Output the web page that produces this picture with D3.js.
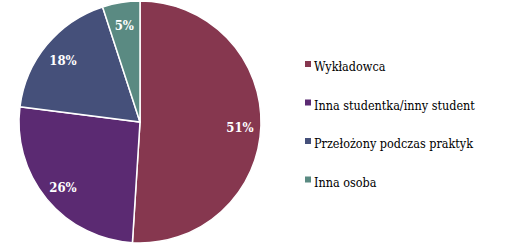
<!DOCTYPE html>
<html>
<head>
<meta charset="utf-8">
<script src="https://cdnjs.cloudflare.com/ajax/libs/d3/7.8.5/d3.min.js"></script>
<style>
  body { margin: 0; background: #fff; }
  text { font-family: 'DejaVu Serif Condensed', 'DejaVu Serif', serif; font-stretch: condensed; }
</style>
</head>
<body>
<div id="chart"></div>
<script>
var categories = ['Wykładowca', 'Inna studentka/inny student', 'Przełożony podczas praktyk', 'Inna osoba']
var values = [51, 26, 18, 5]
var labels = ['51%', '26%', '18%', '5%']
var colors = ['#86374f', '#5b2a72', '#45507a', '#5a8a82']

var w = 515, h = 246
var radius = 121
var cx = 140, cy = 122

var svg = d3.select('#chart').append('svg')
  .attr('width', w)
  .attr('height', h)

var data = categories.map(function(c, i) {
  return { name: c, value: values[i], label: labels[i], color: colors[i] }
})

var pie = d3.pie()
  .sort(null)
  .value(function(d) { return d.value })

var arc = d3.arc()
  .innerRadius(0)
  .outerRadius(radius)

var labelArc = d3.arc()
  .innerRadius(100)
  .outerRadius(100)

var g = svg.append('g')
  .attr('transform', 'translate(' + cx + ',' + cy + ')')

var slices = g.selectAll('.arc')
  .data(pie(data))
  .enter().append('g')
  .attr('class', 'arc')

slices.append('path')
  .attr('d', arc)
  .attr('fill', function(d) { return d.data.color })
  .attr('stroke', '#fff')
  .attr('stroke-width', 1.5)

slices.append('text')
  .attr('transform', function(d) { return 'translate(' + labelArc.centroid(d) + ')' })
  .attr('dy', '0.5em')
  .attr('text-anchor', 'middle')
  .attr('fill', '#fff')
  .style('font-weight', 'bold')
  .style('font-size', '13px')
  .text(function(d) { return d.data.label })

// legend
var legend = svg.selectAll('.legend')
  .data(data)
  .enter().append('g')
  .attr('class', 'legend')
  .attr('transform', function(d, i) { return 'translate(305,' + (71 + i * 38.5) + ')' })

legend.append('rect')
  .attr('x', 0)
  .attr('y', -10)
  .attr('width', 6)
  .attr('height', 6)
  .attr('fill', function(d) { return d.color })

legend.append('text')
  .attr('x', 9)
  .attr('y', 0)
  .style('font-size', '12.5px')
  .attr('fill', '#000')
  .text(function(d) { return d.name })
</script>
</body>
</html>
